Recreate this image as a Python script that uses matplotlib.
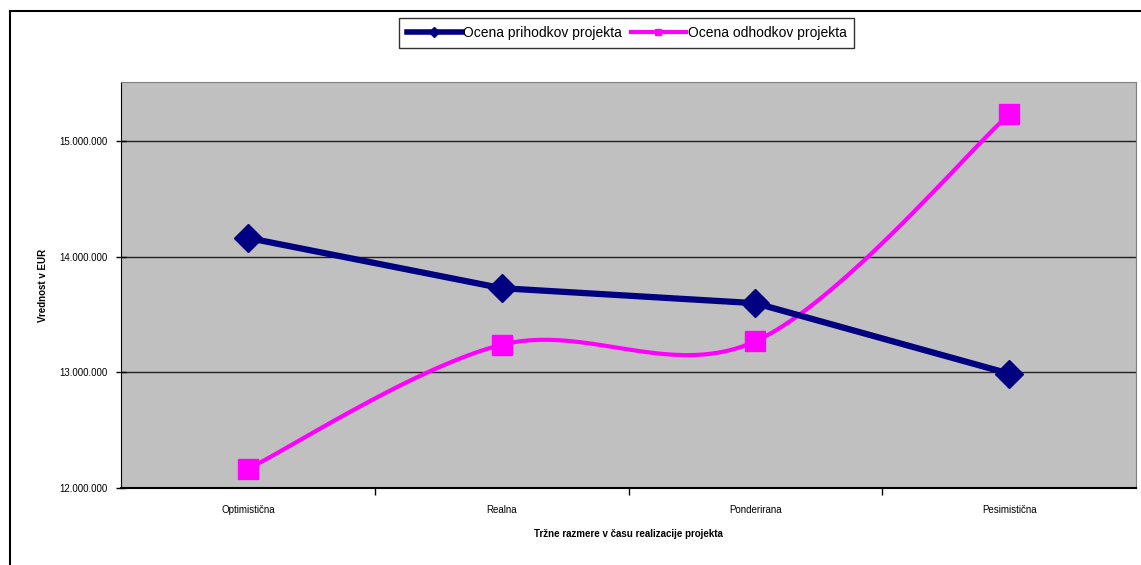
import numpy as np
import matplotlib
matplotlib.use("Agg")
import matplotlib.pyplot as plt
from matplotlib.lines import Line2D
from matplotlib.ticker import FuncFormatter

plt.rcParams['font.family'] = ['Liberation Sans', 'DejaVu Sans']

# --- Data ---
scenarios = ['Optimistična', 'Realna', 'Ponderirana', 'Pesimistična']
revenue = [14.165e6, 13.73e6, 13.60e6, 12.99e6]   # Ocena prihodkov projekta
costs = [12.165e6, 13.24e6, 13.27e6, 15.235e6]    # Ocena odhodkov projekta
y_ticks = [12e6, 13e6, 14e6, 15e6]

NAVY = '#000080'
MAGENTA = '#FF00FF'


def smooth_line(x, y, n=40):
    """Bezier smoothing through every point (control points from neighbours)."""
    x = np.asarray(x, float)
    y = np.asarray(y, float)
    px = np.concatenate([[x[0]], x, [x[-1]]])
    py = np.concatenate([[y[0]], y, [y[-1]]])
    xs, ys = [], []
    t = np.linspace(0, 1, n)
    for i in range(len(x) - 1):
        p0 = np.array([x[i], y[i]])
        p3 = np.array([x[i + 1], y[i + 1]])
        p1 = p0 + (np.array([px[i + 2], py[i + 2]]) - np.array([px[i], py[i]])) / 6
        p2 = p3 - (np.array([px[i + 3], py[i + 3]]) - np.array([px[i + 1], py[i + 1]])) / 6
        b = ((1 - t) ** 3)[:, None] * p0 + (3 * (1 - t) ** 2 * t)[:, None] * p1 \
            + (3 * (1 - t) * t ** 2)[:, None] * p2 + (t ** 3)[:, None] * p3
        xs.append(b[:, 0])
        ys.append(b[:, 1])
    return np.concatenate(xs), np.concatenate(ys)


W, H = 1141, 565
fig = plt.figure(figsize=(W / 100, H / 100), dpi=100)
ax = fig.add_axes([121 / W, (H - 488) / H, (1136 - 121) / W, (488 - 82) / H])
ax.set_facecolor('#C0C0C0')

xpos = np.arange(len(scenarios))

# revenue: straight segments with large diamonds
ax.plot(xpos, revenue, color=NAVY, lw=4.5, marker='D', markersize=14,
        markerfacecolor=NAVY, markeredgecolor=NAVY, zorder=4)

# costs: smoothed line with squares
sx, sy = smooth_line(xpos, costs)
ax.plot(sx, sy, color=MAGENTA, lw=3, zorder=3, solid_capstyle='round')
ax.plot(xpos, costs, ls='none', marker='s', markersize=14,
        markerfacecolor=MAGENTA, markeredgecolor=MAGENTA, zorder=5)

ax.set_xlim(-0.5, len(scenarios) - 0.5)
ax.set_ylim(12e6, 15.515e6)
ax.set_yticks(y_ticks)
ax.yaxis.set_major_formatter(FuncFormatter(lambda v, p: f'{v:,.0f}'.replace(',', '.')))
ax.grid(axis='y', color='#202020', lw=1)
ax.set_axisbelow(True)

# category ticks sit between categories, labels centred on categories
ax.set_xticks(np.arange(0.5, len(scenarios) - 0.5, 1.0))
ax.set_xticklabels([])
ax.set_xticks(xpos, minor=True)
ax.set_xticklabels(scenarios, minor=True)
ax.tick_params(axis='x', which='minor', length=0, pad=12, labelsize=7)
ax.tick_params(axis='x', which='major', direction='out', length=5, width=1, color='black')
ax.tick_params(axis='y', direction='inout', length=7, width=1, labelsize=7, pad=6)

for side in ('top', 'right'):
    ax.spines[side].set_color('#808080')
ax.spines['left'].set_color('black')
ax.spines['bottom'].set_color('black')
ax.spines['bottom'].set_linewidth(1.5)

ax.set_ylabel('Vrednost v EUR', fontsize=7, fontweight='bold', labelpad=8)
ax.set_xlabel('Tržne razmere v času realizacije projekta', fontsize=7,
              fontweight='bold', labelpad=10)

handles = [
    Line2D([], [], color=NAVY, lw=4, marker='D', markersize=5),
    Line2D([], [], color=MAGENTA, lw=3, marker='s', markersize=5),
]
leg = fig.legend(handles, ['Ocena prihodkov projekta', 'Ocena odhodkov projekta'],
                 loc='center', bbox_to_anchor=((393 + 860) / 2 / W, 1 - 33 / H),
                 ncol=2, fontsize=10, frameon=True, fancybox=False,
                 handlelength=4, handletextpad=0.1, columnspacing=0.6,
                 borderpad=0.55, borderaxespad=0)
leg.get_frame().set_edgecolor('black')
leg.get_frame().set_linewidth(1)

# outer chart frame (left and top edges)
fig.add_artist(Line2D([10 / W, 10 / W], [0, 1 - 11 / H], color='black', lw=1.5))
fig.add_artist(Line2D([10 / W, 1], [1 - 11 / H, 1 - 11 / H], color='black', lw=1.5))

fig.savefig('out.png', dpi=100)
